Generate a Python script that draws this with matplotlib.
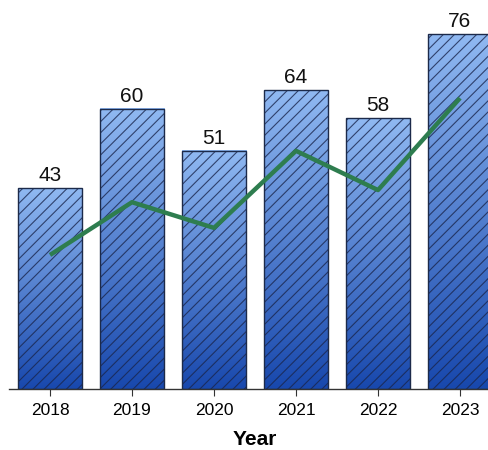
import matplotlib
matplotlib.use("Agg")
import matplotlib.pyplot as plt
import numpy as np
from matplotlib.colors import LinearSegmentedColormap

plt.rcParams['font.family'] = ['Liberation Sans', 'DejaVu Sans']
plt.rcParams['hatch.linewidth'] = 0.8

years = ['2018', '2019', '2020', '2021', '2022', '2023']
bar_values = [43, 60, 51, 64, 58, 76]
line_values = [28.7, 40.0, 34.5, 51.0, 42.6, 62.3]

W, H = 489, 450
fig = plt.figure(figsize=(W / 100, H / 100), dpi=100)
left_px, right_px, bottom_px, top_px = 9, 501, 389, 0
ax = fig.add_axes([left_px / W, (H - bottom_px) / H,
                   (right_px - left_px) / W, (bottom_px - top_px) / H])
ax.set_xlim(-0.5, 5.5)
ax.set_ylim(0, 83.3)

cmap = LinearSegmentedColormap.from_list('g', ['#1848ad', '#90b9f2'])
grad = np.linspace(0, 1, 256).reshape(-1, 1)
x = np.arange(len(years))
width = 0.79
for xi, v in zip(x, bar_values):
    ax.imshow(grad, cmap=cmap, origin='lower', aspect='auto',
              extent=[xi - width / 2, xi + width / 2, 0, v], zorder=1)
bars = ax.bar(x, bar_values, width=width, facecolor='none',
              edgecolor='#1c2a4a', linewidth=1.0, hatch='///', zorder=2)
for b in bars:
    b._hatch_color = (0.1, 0.15, 0.3, 0.8)
for xi, v in zip(x, bar_values):
    ax.text(xi, v + 0.6, str(v), ha='center', va='bottom', fontsize=15, color='#111111')

ax.plot(x, line_values, color='#2e7d4f', linewidth=3.2, zorder=3, solid_capstyle='butt')

ax.set_xticks(x)
ax.set_xticklabels(years, fontsize=12.5)
ax.set_yticks([])
for s in ['left', 'right', 'top']:
    ax.spines[s].set_visible(False)
ax.spines['bottom'].set_color('#333333')
ax.spines['bottom'].set_linewidth(1.0)
ax.tick_params(axis='x', length=5, color='#333333', pad=5)
ax.set_xlabel('Year', fontsize=15, fontweight='bold', labelpad=9)
ax.set_xlim(-0.5, 5.5)
ax.set_ylim(0, 83.3)

fig.savefig('out.png', dpi=100)
